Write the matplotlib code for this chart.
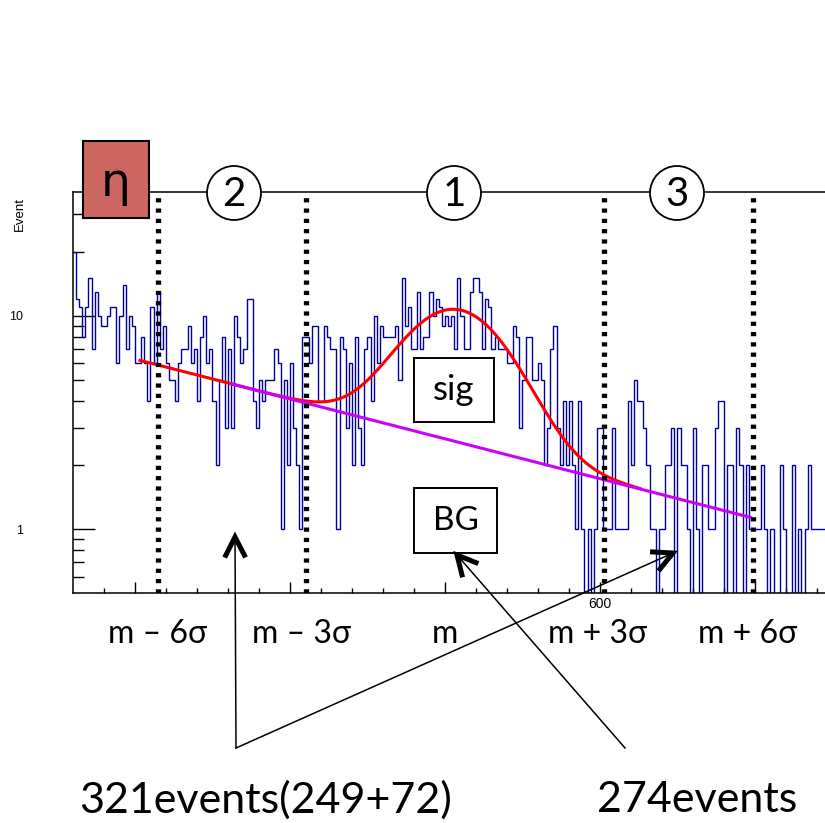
import numpy as np
import matplotlib
matplotlib.use("Agg")
import matplotlib.pyplot as plt
from matplotlib.patches import Ellipse, Rectangle
from matplotlib.lines import Line2D
from matplotlib.ticker import FixedLocator, FuncFormatter, NullFormatter

W, H, DPI = 825, 823, 100

# ---------------- data ----------------
counts = np.array([
    20, 12, 11, 8, 11, 15, 7, 13, 10, 9, 9, 10, 11, 11, 6, 10, 14, 7, 10, 9,
    6, 6, 8, 6, 4, 11, 6, 13, 7, 9, 6, 5, 5, 4, 6, 7, 7, 9, 6, 7,
    4, 8, 10, 6, 7, 4, 2,
    5, 8, 3, 7, 3, 10, 8, 6, 7, 12, 12, 4, 3, 5, 4, 5, 5, 5, 7, 6,
    1, 5, 2, 6, 3, 2, 1,
    8, 8, 6, 9, 9, 4, 4, 9, 8, 7, 7, 1, 8, 7, 3, 6, 2, 8, 3, 2,
    7, 8, 4, 10, 6, 9, 8, 8, 8, 8, 9, 5, 15,
    9, 11, 7, 7, 13, 7, 8, 8, 13, 10, 12, 11, 9, 10, 9, 10, 7, 15, 10, 7,
    7, 13, 15, 15, 13, 7, 12, 11, 7, 8, 7, 7, 7, 6,
    6, 9, 8, 3, 5, 8, 8, 5, 5, 6, 5, 2, 3, 7, 9, 3, 2, 4, 2, 4,
    2, 1, 4, 1, 0, 1, 0, 1, 3, 3, 1, 1, 1, 3, 1, 1, 1, 1,
    4, 2, 5, 4, 4, 3, 2, 1, 1, 0, 1, 1, 2, 2, 3, 0, 3, 2, 2, 1,
    0, 3, 1, 0, 2, 2, 1, 1, 3, 4, 4,
    0, 2, 2, 0, 3, 2, 0, 2, 1, 1, 1, 1, 2, 1, 0, 1, 0, 0, 2, 1,
    0, 0, 2, 0, 1, 0, 1, 2, 1, 1, 1, 1, 1,
])
x_min, bin_width = 430.0, 1.0
edges = x_min + bin_width * np.arange(len(counts) + 1)
zero_floor = 0.05  # empty bins drop below the frame, as in ROOT

# fit: exponential background + gaussian signal
mass, sigma = 553.3, 16.0
sig_amp = 8.16
bg_ref, bg_norm, bg_slope = 481.2, 4.8, -0.003736
fit_lo, fit_hi = 451.6, 612.9
bg_lo, bg_hi = 481.2, 648.6

x_lim = (430.0, 672.6)
y_lim = (0.503, 38.1)
x_major = [450, 500, 550, 600, 650]
x_minor = list(range(440, 680, 10))
y_major = [1, 10]
y_minor = [0.6, 0.7, 0.8, 0.9, 2, 3, 4, 5, 6, 7, 8, 9, 20, 30]
labelled_x = 600

region_mult = [-6, -3, 3, 6]
bottom_labels = ["m \u2013 6\u03c3", "m \u2013 3\u03c3", "m", "m + 3\u03c3", "m + 6\u03c3"]
region_numbers = ["2", "1", "3"]
summary_left = "321events(249+72)"
summary_right = "274events"

# ---------------- figure ----------------
BIG = ["Lato", "DejaVu Sans"]
SMALL = ["Liberation Sans", "DejaVu Sans"]

fig = plt.figure(figsize=(W / DPI, H / DPI), dpi=DPI)
fig.patch.set_facecolor("white")
ax = fig.add_axes([73 / W, 1 - 593 / H, 752 / W, (593 - 192) / H])

ax.stairs(np.where(counts > 0, counts, zero_floor), edges, baseline=None,
          color="#000099", lw=1.0, zorder=2)

def bg(x):
    return bg_norm * 10 ** (bg_slope * (x - bg_ref))

xf = np.linspace(fit_lo, fit_hi, 500)
ax.plot(xf, bg(xf) + sig_amp * np.exp(-0.5 * ((xf - mass) / sigma) ** 2),
        color="#ff0000", lw=2.2, zorder=3)
xb = np.linspace(bg_lo, bg_hi, 300)
ax.plot(xb, bg(xb), color="#cc00ff", lw=2.2, zorder=4)

for m in region_mult:
    ax.axvline(mass + m * sigma, color="black", lw=3.8,
               linestyle=(0, (0.8, 1.15)), dash_capstyle="butt", zorder=5)

ax.set_yscale("log")
ax.set_xlim(*x_lim)
ax.set_ylim(*y_lim)
ax.spines["right"].set_visible(False)
for s in ["left", "bottom", "top"]:
    ax.spines[s].set_linewidth(1.1)

ax.xaxis.set_major_locator(FixedLocator(x_major))
ax.xaxis.set_minor_locator(FixedLocator(x_minor))
ax.xaxis.set_major_formatter(FuncFormatter(lambda v, p: f"{v:g}" if abs(v - labelled_x) < 0.5 else ""))
ax.xaxis.set_minor_formatter(NullFormatter())
ax.yaxis.set_major_locator(FixedLocator(y_major))
ax.yaxis.set_minor_locator(FixedLocator(y_minor))
ax.yaxis.set_major_formatter(FuncFormatter(lambda v, p: f"{v:g}"))
ax.yaxis.set_minor_formatter(NullFormatter())
ax.tick_params(axis="x", which="major", direction="in", length=8, width=1,
               labelsize=10, pad=3, top=False, labelfontfamily="Liberation Sans")
ax.tick_params(axis="x", which="minor", direction="in", length=3.5, width=1, top=False)
ax.tick_params(axis="y", which="major", direction="in", length=16, width=1,
               labelsize=9, pad=36, right=False, labelfontfamily="Liberation Sans")
ax.tick_params(axis="y", which="minor", direction="in", length=8, width=1, right=False)

# ---------------- annotations (figure pixel coordinates) ----------------
def fx(x):
    return x / W

def fy(y):
    return 1 - y / H

def ftext(x, y, s, size, family=BIG, **kw):
    kw.setdefault("zorder", 9)
    fig.text(fx(x), fy(y), s, fontsize=size, family=family,
             ha="center", va="center", **kw)

def fbox(x0, y0, x1, y1, face="white", lw=1.4):
    fig.add_artist(Rectangle((fx(x0), fy(y1)), (x1 - x0) / W, (y1 - y0) / H,
                             transform=fig.transFigure, facecolor=face,
                             edgecolor="black", lw=lw, zorder=6))

def fline(xs, ys, lw, **kw):
    fig.add_artist(Line2D([fx(v) for v in xs], [fy(v) for v in ys],
                          transform=fig.transFigure, color="black", lw=lw,
                          zorder=7, **kw))

def arrow(tail, tip, head_len=23, half_angle=27):
    fline([tail[0], tip[0]], [tail[1], tip[1]], 1.1)
    d = np.array(tail, float) - np.array(tip, float)
    d /= np.hypot(*d)
    pts = []
    for sgn in (1, -1):
        a = np.deg2rad(sgn * half_angle)
        r = np.array([d[0] * np.cos(a) - d[1] * np.sin(a),
                      d[0] * np.sin(a) + d[1] * np.cos(a)])
        pts.append(np.array(tip) + head_len * r)
    fline([pts[0][0], tip[0], pts[1][0]], [pts[0][1], tip[1], pts[1][1]], 3.6,
          solid_joinstyle="miter", solid_capstyle="butt")

# y axis title
ftext(20, 214, "Event", 9.5, family=SMALL, rotation=90)

# eta box
fbox(83, 141, 149, 218, face="#cd6660", lw=1.5)
ftext(116, 184, "\u03b7", 34, family=["DejaVu Sans"])

# circled region numbers
for cx, num in zip([234, 454, 677], region_numbers):
    fig.add_artist(Ellipse((fx(cx), fy(193)), 54 / W, 54 / H,
                           transform=fig.transFigure, facecolor="white",
                           edgecolor="black", lw=1.3, zorder=6))
    ftext(cx, 194, num, 29)

# sig / BG boxes
fbox(414, 358, 494, 422)
ftext(454, 390, "sig", 25)
fbox(414, 488, 497, 553)
ftext(456, 521, "BG", 24)

# bottom labels
for cx, s in zip([158, 302, 445, 598, 748], bottom_labels):
    ftext(cx, 634, s, 23)

# arrows
arrow((236, 748), (235, 537))
arrow((236, 748), (673, 553))
arrow((625, 748), (457, 555))

ftext(266, 800, summary_left, 31)
ftext(697, 800, summary_right, 31)

fig.savefig("out.png", dpi=DPI, facecolor="white")
